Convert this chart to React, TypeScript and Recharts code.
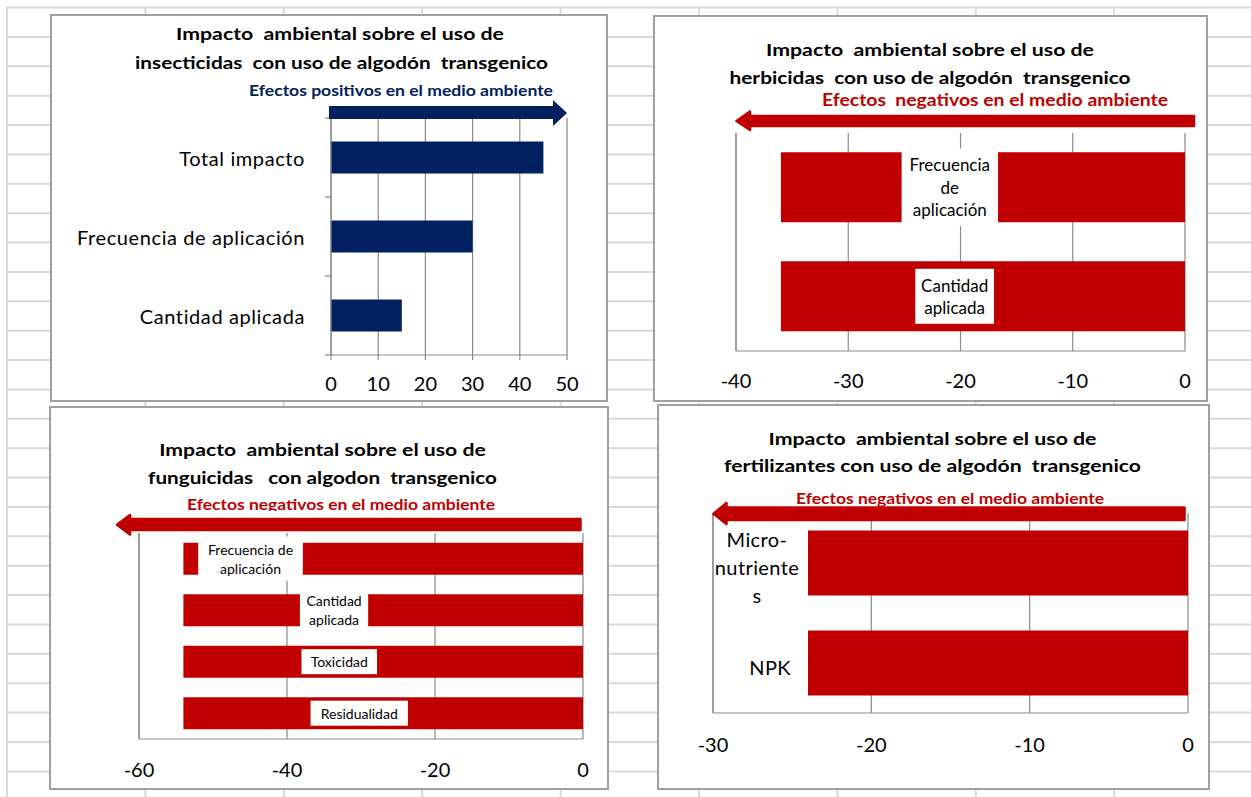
import React from 'react';
import { BarChart, Bar, XAxis, YAxis, CartesianGrid, LabelList } from 'recharts';

// ---------- data ----------
const insectCategories = ['Total impacto', 'Frecuencia de aplicación', 'Cantidad aplicada'];
const insectValues = [45, 30, 15];
const insectTicks = [0, 10, 20, 30, 40, 50];

const herbCategories = ['Frecuencia de aplicación', 'Cantidad aplicada'];
const herbValues = [-36, -36];
const herbTicks = [-40, -30, -20, -10, 0];

const fungCategories = ['Frecuencia de aplicación', 'Cantidad aplicada', 'Toxicidad', 'Residualidad'];
const fungValues = [-54, -54, -54, -54];
const fungTicks = [-60, -40, -20, 0];

const fertCategories = ['Micro-nutrientes', 'NPK'];
const fertValues = [-24, -24];
const fertTicks = [-30, -20, -10, 0];

const titleLine1 = 'Impacto  ambiental sobre el uso de';
const insectTitle2 = 'insecticidas  con uso de algodón  transgenico';
const herbTitle2 = 'herbicidas  con uso de algodón  transgenico';
const fungTitle2 = 'funguicidas   con algodon  transgenico';
const fertTitle2 = 'fertilizantes con uso de algodón  transgenico';
const positiveNote = 'Efectos positivos en el medio ambiente';
const negativeNote = 'Efectos negativos en el medio ambiente';
const negativeNoteWide = 'Efectos  negativos en el medio ambiente';

// ---------- style ----------
const FONT = 'Lato, "Noto Sans", sans-serif';
const NAVY = '#002060';
const RED = '#C00000';
const AXIS = '#8a8a8a';
const SHEET = '#d9d9d9';

const toRows = (cats: string[], vals: number[]) => cats.map((name, i) => ({ name, value: vals[i] }));
const insectData = toRows(insectCategories, insectValues);
const herbData = toRows(herbCategories, herbValues);
const fungData = toRows(fungCategories, fungValues);
const fertData = toRows(fertCategories, fertValues);

const P1 = { left: 51, top: 15, w: 556, h: 386, mt: 103, mr: 40, yw: 280, xh: 46 };
const P2 = { left: 654, top: 16, w: 553, h: 385, mt: 117, mr: 22, ml: 81, xh: 50 };
const P3 = { left: 50, top: 407, w: 558, h: 382, mt: 126, mr: 25, ml: 88, xh: 50 };
const P4 = { left: 658, top: 405, w: 551, h: 384, mt: 108, mr: 21, ml: 54, xh: 76 };

// label anchor (fraction of bar length from its far end) – styling only
const herbLabelAnchor = [0.418, 0.43];
const fungLabelAnchor = [0.168, 0.377, 0.39, 0.44];

function wrapWords(text: string, max: number): string[] {
  const words = text.split(' ');
  const lines: string[] = [];
  let cur = '';
  for (const w of words) {
    const cand = cur ? cur + ' ' + w : w;
    if (cand.length <= max || !cur) cur = cand;
    else {
      lines.push(cur);
      cur = w;
    }
  }
  if (cur) lines.push(cur);
  return lines;
}

function wrapChars(text: string, max: number): string[] {
  const parts = text.split(/(?<=-)/);
  const lines: string[] = [];
  for (const p of parts) for (let i = 0; i < p.length; i += max) lines.push(p.slice(i, i + max));
  return lines;
}

function makeBoxLabel(o: {
  cats: string[]; anchors: number[]; fontSize: number; lineHeight: number; maxChars: number; padX: number; padY: number;
}) {
  return (props: any) => {
    const vb = props.viewBox || props;
    const x = Number(vb.x), y = Number(vb.y), w = Number(vb.width), h = Number(vb.height);
    const left = Math.min(x, x + w);
    const width = Math.abs(w);
    const top = Math.min(y, y + h);
    const height = Math.abs(h);
    const value = String(props.value);
    let idx = o.cats.indexOf(value);
    if (idx < 0) idx = props.index ?? 0;
    const lines = wrapWords(value, o.maxChars);
    const cx = left + width * o.anchors[idx];
    const cy = top + height / 2;
    const maxLen = Math.max(...lines.map((l) => l.length));
    const bw = maxLen * o.fontSize * 0.52 + 2 * o.padX;
    const bh = lines.length * o.lineHeight + 2 * o.padY;
    return (
      <g>
        <rect x={cx - bw / 2} y={cy - bh / 2} width={bw} height={bh} fill="#fff" />
        {lines.map((l, i) => (
          <text
            key={i}
            x={cx}
            y={cy + (i - (lines.length - 1) / 2) * o.lineHeight}
            textAnchor="middle"
            dominantBaseline="central"
            fontSize={o.fontSize}
            fontFamily={FONT}
            fill="#000"
          >
            {l}
          </text>
        ))}
      </g>
    );
  };
}

const InsectTick = (props: any) => {
  const { x, y, payload } = props;
  const axisX = x + 26;
  const band = (P1.h - P1.mt - P1.xh) / insectCategories.length;
  const idx = insectCategories.indexOf(payload.value);
  return (
    <g>
      <text
        x={x}
        y={y}
        textAnchor="end"
        dominantBaseline="central"
        fontSize={20}
        fontFamily={FONT}
        fill="#000"
        style={{ letterSpacing: 0.6 }}
      >
        {payload.value}
      </text>
      <line x1={axisX - 6} x2={axisX} y1={y - band / 2} y2={y - band / 2} stroke={AXIS} strokeWidth={1.2} />
      {idx === insectCategories.length - 1 && (
        <line x1={axisX - 6} x2={axisX} y1={y + band / 2} y2={y + band / 2} stroke={AXIS} strokeWidth={1.2} />
      )}
    </g>
  );
};

const FertTick = (props: any) => {
  const { x, y, payload } = props;
  const lines = wrapChars(String(payload.value), 9);
  const lh = 28;
  const multi = lines.length > 1;
  const ax = x + 1;
  return (
    <g>
      {lines.map((l, i) => (
        <text
          key={i}
          x={multi ? ax + 43 : ax + 77}
          y={y + 4 + (i - (lines.length - 1) / 2) * lh}
          textAnchor={multi ? 'middle' : 'end'}
          dominantBaseline="central"
          fontSize={20}
          fontFamily={FONT}
          fill="#000"
          style={{ letterSpacing: 0.4 }}
        >
          {l}
        </text>
      ))}
    </g>
  );
};

const tickStyle = { fontSize: 20, fill: '#000', fontFamily: FONT };

const Panel = ({ p, children }: { p: any; children: React.ReactNode }) => (
  <div style={{ position: 'absolute', left: p.left, top: p.top, width: p.w, height: p.h, background: '#fff' }}>
    {children}
  </div>
);

const Title = ({ x, y, text, width, size = 17.5, fill = '#000', clip }: any) => (
  <text
    x={x}
    y={y}
    textAnchor="middle"
    dominantBaseline="central"
    fontSize={size}
    fontWeight="bold"
    fontFamily={FONT}
    fill={fill}
    textLength={width}
    lengthAdjust="spacingAndGlyphs"
    clipPath={clip}
    style={{ whiteSpace: 'pre' }}
  >
    {text}
  </text>
);

export default function App() {
  const hLines: number[] = [];
  for (let k = 0; k < 28; k++) hLines.push(7.5 + k * 29.38);
  const vLines: number[] = [];
  for (let k = 0; k < 10; k++) vLines.push(7 + k * 138.4);

  return (
    <div style={{ position: 'absolute', left: 0, top: 0, width: 1251, height: 797, background: '#fff', overflow: 'hidden' }}>
      <svg width={1251} height={797} style={{ position: 'absolute', left: 0, top: 0 }}>
        {hLines.map((y, i) => (
          <line key={'h' + i} x1={7} x2={1251} y1={y} y2={y} stroke={SHEET} strokeWidth={2} />
        ))}
        {vLines.map((x, i) => (
          <line key={'v' + i} x1={x} x2={x} y1={7} y2={797} stroke={SHEET} strokeWidth={2} />
        ))}
      </svg>

      {/* Panel 1: insecticidas */}
      <Panel p={P1}>
        <BarChart
          width={P1.w}
          height={P1.h}
          data={insectData}
          layout="vertical"
          margin={{ top: P1.mt, right: P1.mr, left: 0, bottom: 0 }}
          barCategoryGap="29.7%"
        >
          <CartesianGrid horizontal={false} stroke={AXIS} strokeWidth={1.2} />
          <XAxis
            type="number"
            domain={[0, 50]}
            ticks={insectTicks}
            height={P1.xh}
            tickSize={5}
            tickMargin={17}
            tick={tickStyle}
            axisLine={{ stroke: AXIS, strokeWidth: 1.2 }}
            tickLine={{ stroke: AXIS, strokeWidth: 1.2 }}
            interval={0}
          />
          <YAxis
            type="category"
            dataKey="name"
            width={P1.yw}
            tickSize={0}
            tickMargin={26}
            tickLine={false}
            axisLine={{ stroke: AXIS, strokeWidth: 1.2 }}
            tick={<InsectTick />}
            interval={0}
          />
          <Bar dataKey="value" fill={NAVY} isAnimationActive={false} />
        </BarChart>
      </Panel>

      {/* Panel 2: herbicidas */}
      <Panel p={P2}>
        <BarChart
          width={P2.w}
          height={P2.h}
          data={herbData}
          layout="vertical"
          margin={{ top: P2.mt, right: P2.mr, left: P2.ml, bottom: 0 }}
          barCategoryGap="17.7%"
        >
          <CartesianGrid horizontal={false} stroke={AXIS} strokeWidth={1.2} />
          <XAxis
            type="number"
            domain={[-40, 0]}
            ticks={herbTicks}
            height={P2.xh}
            tickSize={0}
            tickMargin={23}
            tick={tickStyle}
            axisLine={{ stroke: AXIS, strokeWidth: 1.2 }}
            tickLine={false}
            interval={0}
          />
          <YAxis type="category" dataKey="name" width={1} tick={false} tickLine={false} axisLine={{ stroke: AXIS, strokeWidth: 1.2 }} />
          <Bar dataKey="value" fill={RED} isAnimationActive={false}>
            <LabelList
              dataKey="name"
              content={makeBoxLabel({ cats: herbCategories, anchors: herbLabelAnchor, fontSize: 17, lineHeight: 22.5, maxChars: 10, padX: 4, padY: 5 })}
            />
          </Bar>
        </BarChart>
      </Panel>

      {/* Panel 3: funguicidas */}
      <Panel p={P3}>
        <BarChart
          width={P3.w}
          height={P3.h}
          data={fungData}
          layout="vertical"
          margin={{ top: P3.mt, right: P3.mr, left: P3.ml, bottom: 0 }}
          barCategoryGap="18.8%"
        >
          <CartesianGrid horizontal={false} stroke={AXIS} strokeWidth={1.2} />
          <XAxis
            type="number"
            domain={[-60, 0]}
            ticks={fungTicks}
            height={P3.xh}
            tickSize={0}
            tickMargin={24}
            tick={tickStyle}
            axisLine={{ stroke: AXIS, strokeWidth: 1.2 }}
            tickLine={false}
            interval={0}
          />
          <YAxis type="category" dataKey="name" width={1} tick={false} tickLine={false} axisLine={{ stroke: AXIS, strokeWidth: 1.2 }} />
          <Bar dataKey="value" fill={RED} isAnimationActive={false}>
            <LabelList
              dataKey="name"
              content={makeBoxLabel({ cats: fungCategories, anchors: fungLabelAnchor, fontSize: 14, lineHeight: 19, maxChars: 14, padX: 5, padY: 3 })}
            />
          </Bar>
        </BarChart>
      </Panel>

      {/* Panel 4: fertilizantes */}
      <Panel p={P4}>
        <BarChart
          width={P4.w}
          height={P4.h}
          data={fertData}
          layout="vertical"
          margin={{ top: P4.mt, right: P4.mr, left: P4.ml, bottom: 0 }}
          barCategoryGap="17.6%"
        >
          <CartesianGrid horizontal={false} stroke={AXIS} strokeWidth={1.2} />
          <XAxis
            type="number"
            domain={[-30, 0]}
            ticks={fertTicks}
            height={P4.xh}
            tickSize={0}
            tickMargin={25}
            tick={tickStyle}
            axisLine={{ stroke: AXIS, strokeWidth: 1.2 }}
            tickLine={false}
            interval={0}
          />
          <YAxis
            type="category"
            dataKey="name"
            width={1}
            tickSize={0}
            tickMargin={0}
            tickLine={false}
            tick={<FertTick />}
            axisLine={{ stroke: AXIS, strokeWidth: 1.2 }}
            interval={0}
          />
          <Bar dataKey="value" fill={RED} isAnimationActive={false} />
        </BarChart>
      </Panel>

      {/* overlay: borders, titles, arrows */}
      <svg width={1251} height={797} style={{ position: 'absolute', left: 0, top: 0, pointerEvents: 'none' }}>
        <defs>
          <clipPath id="clipP3">
            <rect x={0} y={0} width={1251} height={511} />
          </clipPath>
        </defs>
        {[P1, P2, P3, P4].map((p, i) => (
          <rect key={i} x={p.left} y={p.top} width={p.w} height={p.h} fill="none" stroke="#a0a0a0" strokeWidth={2} />
        ))}

        <Title x={340} y={33} text={titleLine1} width={328} />
        <Title x={341.5} y={62} text={insectTitle2} width={413} />
        <Title x={401} y={90} text={positiveNote} width={304} size={15} fill={NAVY} />
        <polygon points="329,106 553,106 553,100 567,113 553,126 553,119 329,119" fill={NAVY} />

        <Title x={930} y={49} text={titleLine1} width={328} />
        <Title x={930} y={77} text={herbTitle2} width={401} />
        <Title x={995} y={100} text={negativeNoteWide} width={346} size={16.5} fill={RED} />
        <polygon
          points="1194,116 750,116 750,111.5 736.5,121 750,130 750,126 1194,126"
          fill={RED}
          stroke={RED}
          strokeWidth={2.5}
          strokeLinejoin="round"
        />

        <Title x={322.5} y={449} text={titleLine1} width={326.5} />
        <Title x={322.5} y={477} text={fungTitle2} width={349} />
        <Title x={341} y={504} text={negativeNote} width={308} size={15.5} fill={RED} clip="url(#clipP3)" />
        <polygon
          points="580.5,519 130,519 130,515 117,524.7 130,534.5 130,530 580.5,530"
          fill={RED}
          stroke={RED}
          strokeWidth={2.5}
          strokeLinejoin="round"
        />

        <Title x={932.5} y={438} text={titleLine1} width={328} />
        <Title x={932.5} y={465} text={fertTitle2} width={417} />
        <Title x={950} y={498} text={negativeNote} width={308} size={15.5} fill={RED} />
        <polygon
          points="1184.5,507.5 726.5,507.5 726.5,503 713.5,513.7 726.5,524 726.5,520 1184.5,520"
          fill={RED}
          stroke={RED}
          strokeWidth={2.5}
          strokeLinejoin="round"
        />
      </svg>
    </div>
  );
}
